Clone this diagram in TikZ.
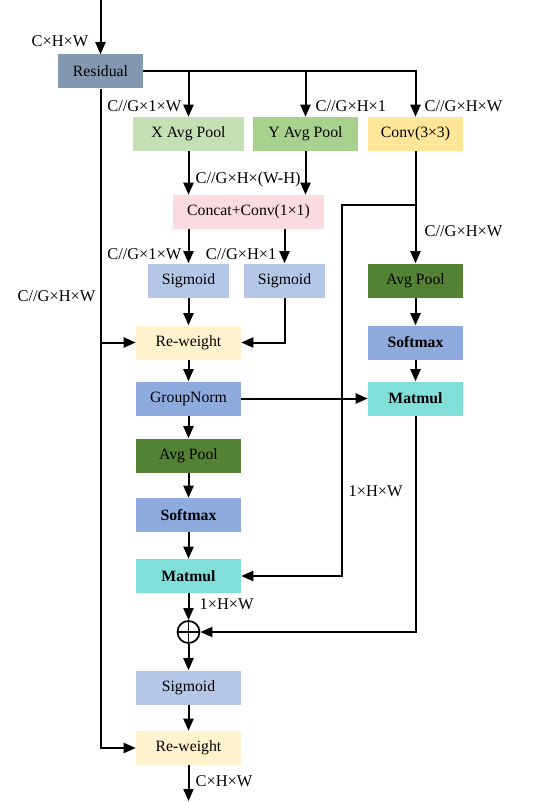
\documentclass[tikz,border=0pt]{standalone}
\usepackage{fontspec}
\setmainfont{Liberation Serif}
\usetikzlibrary{arrows.meta, calc}
\definecolor{resgray}{HTML}{8497B0}
\definecolor{xgreen}{HTML}{C5E0B4}
\definecolor{ygreen}{HTML}{A9D18E}
\definecolor{convyel}{HTML}{FFE699}
\definecolor{catpink}{HTML}{FADBE0}
\definecolor{sigblue}{HTML}{B4C7E7}
\definecolor{dkgreen}{HTML}{548235}
\definecolor{midblue}{HTML}{8FAADC}
\definecolor{mmcyan}{HTML}{80E0D8}
\definecolor{rwcream}{HTML}{FFF2CC}

\begin{document}
\begin{tikzpicture}[
  x=0.75pt, y=-0.75pt,
  >={Triangle[length=9pt, width=7.5pt]},
  box/.style={fill=#1, minimum height=25.5pt, inner sep=0pt,
    font=\fontsize{11.8}{14}\selectfont},
  arr/.style={->, line width=1.5pt, black},
  lbl/.style={font=\fontsize{12.3}{14}\selectfont, inner sep=1pt},
]

\useasboundingbox (0,0) rectangle (533,802);

% === Input ===
\coordinate (in) at (100.5,0);
\node[box=resgray, minimum width=63.75pt] (res) at (100.5,71.5) {Residual};
\draw[arr] (in) -- (res.north);
\node[lbl, anchor=east] at (90,41) {C×H×W};

% === Three branches ===
\node[box=xgreen, minimum width=83.25pt] (xpool) at (188.5,134) {X Avg Pool};
\node[box=ygreen, minimum width=78.75pt] (ypool) at (305.5,134) {Y Avg Pool};
\node[box=convyel, minimum width=71.25pt] (conv) at (415.5,134) {Conv(3×3)};

\draw[arr] (res.east) -| (xpool.north);
\draw[arr] (res.east) -| (ypool.north);
\draw[arr] (res.east) -| (conv.north);

\node[lbl, anchor=east] at (183,106) {C//G×1×W};
\node[lbl, anchor=west] at (314,106) {C//G×H×1};
\node[lbl, anchor=west] at (423,106) {C//G×H×W};

% === Concat ===
\node[box=catpink, minimum width=113.25pt] (concat) at (248.5,212) {Concat+Conv(1×1)};
\draw[arr] (xpool.south) -- (xpool.south |- concat.north);
\draw[arr] (ypool.south) -- (ypool.south |- concat.north);
\node[lbl, anchor=west] at (194,180) {C//G×H×(W-H)};

% === Sigmoids ===
\node[box=sigblue, minimum width=60.75pt] (sig1) at (188.5,280.5) {Sigmoid};
\node[box=sigblue, minimum width=60.75pt] (sig2) at (284.5,280.5) {Sigmoid};
\draw[arr] (concat.south -| sig1) -- (sig1.north);
\draw[arr] (concat.south -| sig2) -- (sig2.north);
\node[lbl, anchor=east] at (183,254) {C//G×1×W};
\node[lbl, anchor=east] at (278,254) {C//G×H×1};

% === Left column ===
\node[box=rwcream, minimum width=78.75pt] (rw1) at (188.5,342.5) {Re-weight};
\node[box=midblue, minimum width=78.75pt] (gn) at (188.5,398.5) {GroupNorm};
\node[box=dkgreen, minimum width=78.75pt] (apL) at (188.5,455.5) {Avg Pool};
\node[box=midblue, minimum width=78.75pt] (smL) at (188.5,515) {\textbf{Softmax}};
\node[box=mmcyan, minimum width=78.75pt] (mmL) at (188.5,576) {\textbf{Matmul}};
\node[draw, circle, line width=1.3pt, minimum size=16.5pt, inner sep=0pt] (plus) at (188.5,632) {};
\draw[line width=1.3pt] (plus.north) -- (plus.south) (plus.west) -- (plus.east);
\node[box=sigblue, minimum width=78.75pt] (sig3) at (188.5,687.5) {Sigmoid};
\node[box=rwcream, minimum width=78.75pt] (rw2) at (188.5,748) {Re-weight};
\coordinate (out) at (188.5,801);

\draw[arr] (sig1) -- (rw1);
\draw[arr] (sig2.south) |- (rw1.east);
\draw[arr] (rw1) -- (gn);
\draw[arr] (gn) -- (apL);
\draw[arr] (apL) -- (smL);
\draw[arr] (smL) -- (mmL);
\draw[arr] (mmL) -- (plus);
\draw[arr] (plus) -- (sig3);
\draw[arr] (sig3) -- (rw2);
\draw[arr] (rw2) -- (out);
\node[lbl, anchor=west] at (198,604) {1×H×W};
\node[lbl, anchor=west] at (194,781) {C×H×W};

% === Residual shortcut ===
\draw[arr] (res.south) |- (rw2.west);
\draw[arr] (res.south |- rw1.west) -- (rw1.west);
\node[lbl, anchor=east] at (97,296) {C//G×H×W};

% === Right column ===
\node[box=dkgreen, minimum width=71.25pt] (apR) at (415.5,280.5) {Avg Pool};
\node[box=midblue, minimum width=71.25pt] (smR) at (415.5,342.5) {\textbf{Softmax}};
\node[box=mmcyan, minimum width=71.25pt] (mmR) at (415.5,398.5) {\textbf{Matmul}};
\draw[arr] (conv) -- (apR);
\draw[arr] (apR) -- (smR);
\draw[arr] (smR) -- (mmR);
\draw[arr] (gn) -- (mmR);
\draw[arr] (mmR.south) |- (plus.east);
\node[lbl, anchor=west] at (423,231) {C//G×H×W};

% === Cross branch ===
\coordinate (br) at (415.5,205);
\coordinate (brL) at (342,205);
\draw[arr] (br) -- (brL) |- (mmL.east);
\node[lbl, anchor=west] at (347,491) {1×H×W};

\end{tikzpicture}
\end{document}
